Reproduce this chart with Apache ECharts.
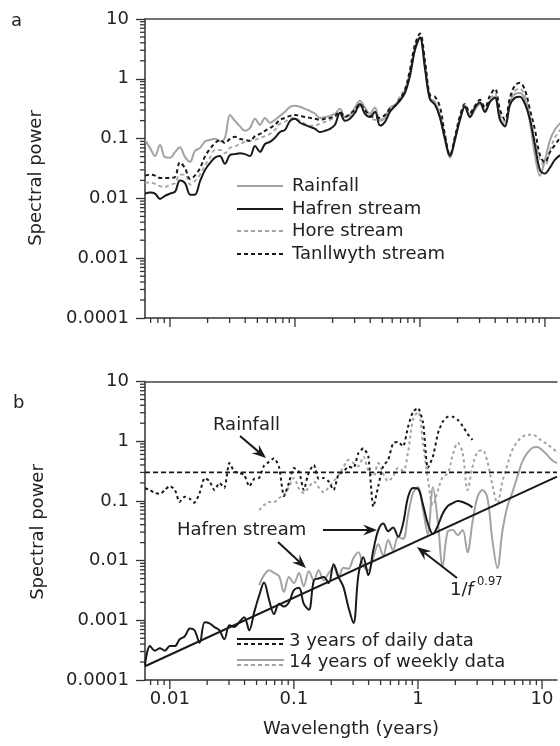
<!DOCTYPE html>
<html>
<head>
<meta charset="utf-8">
<script src="https://cdn.jsdelivr.net/npm/echarts@6/dist/echarts.min.js"></script>
<style>
  html, body { margin: 0; padding: 0; background: #fff; }
  #chart { width: 560px; height: 746px; }
</style>
</head>
<body>
<div id="chart"></div>
<script>
// wavelength grid (years), shared by all curves
var wavelengths = [
  0.00631, 0.00692, 0.00759, 0.00832, 0.00912, 0.0100, 0.0110, 0.0120, 0.0132, 0.0145,
  0.0158, 0.0174, 0.0191, 0.0209, 0.0229, 0.0251, 0.0275, 0.0302, 0.0331, 0.0363,
  0.0398, 0.0437, 0.0479, 0.0525, 0.0575, 0.0631, 0.0692, 0.0759, 0.0832, 0.0912,
  0.100, 0.110, 0.120, 0.132, 0.145, 0.158, 0.174, 0.191, 0.209, 0.229,
  0.251, 0.275, 0.302, 0.331, 0.363, 0.398, 0.437, 0.479, 0.525, 0.575,
  0.631, 0.692, 0.759, 0.832, 0.912, 1.00, 1.10, 1.20, 1.32, 1.45,
  1.58, 1.74, 1.91, 2.09, 2.29, 2.51, 2.75, 3.02, 3.31, 3.63,
  3.98, 4.37, 4.79, 5.25, 5.75, 6.31, 6.92, 7.59, 8.32, 9.12,
  10.0, 11.0, 12.0, 13.2
];

// panel a: spectral power
var rainfallA = [
  0.095, 0.070, 0.051, 0.078, 0.049, 0.048, 0.060, 0.072, 0.049, 0.041,
  0.062, 0.070, 0.090, 0.095, 0.099, 0.090, 0.103, 0.249, 0.198, 0.160,
  0.135, 0.151, 0.215, 0.170, 0.222, 0.184, 0.206, 0.240, 0.280, 0.34,
  0.354, 0.34, 0.315, 0.29, 0.26, 0.222, 0.23, 0.24, 0.26, 0.315,
  0.23, 0.249, 0.33, 0.43, 0.33, 0.26, 0.33, 0.198, 0.222, 0.33,
  0.367, 0.46, 0.63, 1.17, 3.06, 5.0, 1.55, 0.48, 0.40, 0.222,
  0.095, 0.048, 0.095, 0.206, 0.34, 0.23, 0.303, 0.38, 0.29, 0.41,
  0.50, 0.22, 0.17, 0.40, 0.56, 0.58, 0.445, 0.191, 0.053, 0.024,
  0.044, 0.095, 0.140, 0.18
];
var hafrenA = [
  0.012, 0.0125, 0.012, 0.0098, 0.011, 0.012, 0.013, 0.020, 0.018, 0.0115,
  0.0115, 0.0195, 0.030, 0.039, 0.048, 0.051, 0.038, 0.053, 0.055, 0.057,
  0.055, 0.051, 0.075, 0.060, 0.081, 0.088, 0.103, 0.129, 0.140, 0.198,
  0.215, 0.184, 0.170, 0.157, 0.145, 0.129, 0.135, 0.145, 0.170, 0.27,
  0.198, 0.215, 0.27, 0.38, 0.26, 0.23, 0.28, 0.165, 0.191, 0.28,
  0.35, 0.43, 0.58, 1.12, 3.06, 4.86, 1.42, 0.46, 0.367, 0.222,
  0.103, 0.051, 0.099, 0.206, 0.34, 0.23, 0.33, 0.40, 0.28, 0.41,
  0.48, 0.206, 0.16, 0.367, 0.48, 0.50, 0.38, 0.206, 0.078, 0.030,
  0.026, 0.033, 0.044, 0.053
];
var horeA = [
  0.018, 0.0185, 0.0175, 0.016, 0.0155, 0.017, 0.018, 0.025, 0.025, 0.017,
  0.0195, 0.025, 0.036, 0.048, 0.065, 0.065, 0.057, 0.070, 0.074, 0.081,
  0.088, 0.092, 0.095, 0.103, 0.11, 0.12, 0.140, 0.177, 0.191, 0.215,
  0.222, 0.198, 0.177, 0.165, 0.165, 0.177, 0.191, 0.206, 0.23, 0.249,
  0.222, 0.24, 0.27, 0.35, 0.27, 0.222, 0.206, 0.206, 0.23, 0.29,
  0.35, 0.52, 0.68, 1.31, 3.3, 5.0, 1.65, 0.50, 0.41, 0.24,
  0.11, 0.053, 0.103, 0.222, 0.367, 0.249, 0.33, 0.40, 0.30, 0.445,
  0.56, 0.249, 0.191, 0.445, 0.63, 0.68, 0.52, 0.24, 0.095, 0.044,
  0.035, 0.065, 0.103, 0.140
];
var tanllwythA = [
  0.024, 0.025, 0.024, 0.022, 0.022, 0.022, 0.023, 0.040, 0.032, 0.021,
  0.024, 0.032, 0.051, 0.067, 0.084, 0.095, 0.084, 0.099, 0.107, 0.099,
  0.095, 0.092, 0.11, 0.12, 0.135, 0.151, 0.170, 0.206, 0.222, 0.24,
  0.249, 0.24, 0.23, 0.222, 0.215, 0.206, 0.215, 0.222, 0.24, 0.28,
  0.23, 0.26, 0.30, 0.38, 0.30, 0.24, 0.23, 0.222, 0.249, 0.315,
  0.35, 0.46, 0.65, 1.42, 3.7, 5.7, 1.92, 0.54, 0.50, 0.33,
  0.12, 0.053, 0.11, 0.24, 0.38, 0.27, 0.35, 0.445, 0.33, 0.52,
  0.68, 0.303, 0.206, 0.48, 0.77, 0.86, 0.65, 0.303, 0.140, 0.053,
  0.040, 0.060, 0.078, 0.103
];

// panel b: 3 years of daily data (first 67 wavelengths)
var rainDaily = [
  0.163, 0.152, 0.136, 0.131, 0.152, 0.178, 0.152, 0.096, 0.117, 0.108,
  0.093, 0.136, 0.242, 0.214, 0.152, 0.200, 0.165, 0.433, 0.31, 0.294,
  0.272, 0.175, 0.235, 0.242, 0.39, 0.45, 0.52, 0.37, 0.12, 0.2,
  0.356, 0.31, 0.152, 0.305, 0.40, 0.235, 0.242, 0.21, 0.152, 0.28,
  0.31, 0.375, 0.356, 0.63, 0.76, 0.55, 0.08, 0.178, 0.385, 0.485,
  0.93, 0.97, 0.82, 1.74, 3.1, 3.6, 2.0, 0.356, 0.55, 1.36,
  2.1, 2.56, 2.56, 2.28, 1.8, 1.33, 1.05
];
var hafrenDaily = [
  0.00018, 0.00037, 0.00031, 0.00034, 0.00031, 0.00037, 0.00037, 0.00048, 0.00054, 0.00073,
  0.00068, 0.00042, 0.00093, 0.00089, 0.00077, 0.00068, 0.00048, 0.00083, 0.00077, 0.00093,
  0.00113, 0.00068, 0.00137, 0.0026, 0.0043, 0.0022, 0.00127, 0.0019, 0.0017, 0.0020,
  0.0032, 0.0035, 0.0019, 0.0015, 0.0047, 0.0050, 0.0053, 0.0042, 0.0087, 0.0053,
  0.0036, 0.00166, 0.0009, 0.0057, 0.0114, 0.0057, 0.015, 0.0325, 0.042, 0.031,
  0.036, 0.025, 0.042, 0.116, 0.165, 0.16, 0.085, 0.042, 0.028, 0.039,
  0.061, 0.082, 0.092, 0.1, 0.096, 0.088, 0.078
];
// panel b: 14 years of weekly data (wavelengths from index 23)
var rainWeekly = [
  0.070, 0.085, 0.096, 0.096, 0.112, 0.126, 0.17, 0.242, 0.16, 0.136,
  0.17, 0.21, 0.17, 0.14, 0.17, 0.215, 0.272, 0.37, 0.485, 0.43,
  0.385, 0.55, 0.32, 0.26, 0.43, 0.285, 0.215, 0.26, 0.356, 0.32,
  0.66, 2.28, 3.1, 0.87, 0.242, 0.085, 0.152, 0.25, 0.29, 0.59,
  0.94, 0.64, 0.152, 0.37, 0.66, 0.71, 0.45, 0.185, 0.092, 0.21,
  0.40, 0.71, 0.97, 1.18, 1.28, 1.28, 1.18, 1.0, 0.9, 0.77,
  0.66
];
var hafrenWeekly = [
  0.0039, 0.0057, 0.0069, 0.0062, 0.0055, 0.0030, 0.0053, 0.0042, 0.0062, 0.0037,
  0.0066, 0.0047, 0.0069, 0.0047, 0.0062, 0.0078, 0.0053, 0.0076, 0.0073, 0.011,
  0.0138, 0.0081, 0.0069, 0.0114, 0.0188, 0.012, 0.0221, 0.015, 0.025, 0.023,
  0.058, 0.136, 0.17, 0.070, 0.028, 0.17, 0.042, 0.0081, 0.031, 0.0325,
  0.0268, 0.0325, 0.0138, 0.044, 0.117, 0.152, 0.112, 0.0221, 0.0075, 0.031,
  0.08, 0.136, 0.25, 0.45, 0.63, 0.77, 0.80, 0.71, 0.59, 0.485,
  0.43
];

// 1/f^0.97 fit end points and mean rainfall level
var fitWave = [0.00631, 13.2];
var fitPower = [0.00017, 0.255];
var rainMean = 0.3;

var xMin = 0.00631, xMax = 13.2, yMin = 0.0001, yMax = 10;
var FONT = '"DejaVu Sans", Verdana, sans-serif';
var GREY = '#a3a3a3';
var INK = '#1a1a1a';
var TICK = '#333';

var dailyWave = wavelengths.slice(0, 67);
var weeklyWave = wavelengths.slice(23);

function pairs(xs, ys) {
  return ys.map(function (y, i) { return [xs[i], y]; });
}

function curve(name, idx, xs, ys, color, width, dash, smooth) {
  return {
    name: name, type: 'line', xAxisIndex: idx, yAxisIndex: idx,
    data: pairs(xs, ys), symbol: 'none', smooth: smooth, silent: true,
    lineStyle: { color: color, width: width, type: dash || 'solid' }
  };
}

// decade labels only
function decadeLabel(v) {
  var e = Math.log10(v), r = Math.round(e);
  if (Math.abs(e - r) > 1e-6) return '';
  return r >= 0 ? String(Math.pow(10, r)) : Math.pow(10, r).toFixed(-r);
}

// log tick values: major at decades (flag 1), minor at 2..9 (flag 0)
function logTicks(lo, hi, e0, e1) {
  var out = [];
  for (var e = e0; e <= e1; e++) for (var m = 1; m <= 9; m++) {
    var v = +(m * Math.pow(10, e)).toPrecision(3);
    if (v >= lo && v <= hi) out.push([v, m === 1 ? 1 : 0]);
  }
  return out;
}
var xTicks = logTicks(xMin, xMax, -3, 1);
var yTicks = logTicks(yMin, yMax, -4, 1);

function bottomAxis(idx, showLabels) {
  return {
    type: 'log', logBase: 10, gridIndex: idx, min: xMin, max: xMax,
    axisLine: { lineStyle: { color: TICK, width: 1.5 } },
    axisTick: { show: false }, splitLine: { show: false },
    axisLabel: { show: showLabels, formatter: decadeLabel, fontSize: 18, color: '#222', margin: 10, fontFamily: FONT },
    name: showLabels ? 'Wavelength (years)' : '',
    nameLocation: 'middle', nameGap: 40,
    nameTextStyle: { fontSize: 18, color: '#222', fontFamily: FONT }
  };
}
function topAxis(idx) {
  return {
    type: 'log', logBase: 10, gridIndex: idx, min: xMin, max: xMax, position: 'top',
    axisLine: { lineStyle: { color: '#444', width: 1.5 } },
    axisTick: { show: false }, axisLabel: { show: false }, splitLine: { show: false }
  };
}
function leftAxis(idx) {
  return {
    type: 'log', logBase: 10, gridIndex: idx, min: yMin, max: yMax,
    axisLine: { lineStyle: { color: TICK, width: 1.5 } },
    axisTick: { show: true, length: 9, lineStyle: { color: TICK, width: 1.3 } },
    splitLine: { show: false },
    axisLabel: { formatter: decadeLabel, fontSize: 18, color: '#222', margin: 16, fontFamily: FONT }
  };
}

function arrow(x1, y1, x2, y2) {
  var a = Math.atan2(y2 - y1, x2 - x1), L = 14, W = 5.5;
  var c = Math.cos(a), s = Math.sin(a);
  var bx = x2 - L * c, by = y2 - L * s;
  var nx = x2 - 0.65 * L * c, ny = y2 - 0.65 * L * s;
  return [
    { type: 'line', z: 20, shape: { x1: x1, y1: y1, x2: nx, y2: ny }, style: { stroke: INK, lineWidth: 2 } },
    { type: 'polygon', z: 20, shape: { points: [[x2, y2], [bx - W * s, by + W * c], [nx, ny], [bx + W * s, by - W * c]] }, style: { fill: INK } }
  ];
}
function label(text, x, y, size, extra) {
  var st = { text: text, x: x, y: y, font: size + 'px ' + FONT, fill: '#222', textAlign: 'left', textVerticalAlign: 'middle' };
  for (var k in extra) st[k] = extra[k];
  return { type: 'text', z: 20, style: st };
}
function seg(x1, y1, x2, y2, color, dash, width) {
  return { type: 'line', z: 20, shape: { x1: x1, y1: y1, x2: x2, y2: y2 }, style: { stroke: color, lineWidth: width || 2, lineDash: dash || null } };
}
function yName(x, y) {
  return { type: 'text', z: 20, x: x, y: y, rotation: Math.PI / 2, style: { text: 'Spectral power', x: 0, y: 0, font: '18px ' + FONT, fill: '#222', textAlign: 'center', textVerticalAlign: 'middle' } };
}

var graphics = [
  label('a', 11, 21, 18),
  label('b', 13, 403, 18),
  yName(36, 178),
  yName(38, 532),
  // legend a
  seg(237, 186, 283, 186, GREY), label('Rainfall', 292, 186, 18),
  seg(237, 209, 283, 209, INK), label('Hafren stream', 292, 209, 18),
  seg(237, 231, 283, 231, GREY, [4, 3]), label('Hore stream', 292, 231, 18),
  seg(237, 254, 283, 254, INK, [4, 3]), label('Tanllwyth stream', 292, 254, 18),
  // legend b
  seg(237, 639, 284, 639, INK), seg(237, 644, 284, 644, INK, [4, 3]),
  label('3 years of daily data', 289, 641, 18),
  seg(237, 660, 284, 660, GREY), seg(237, 665, 284, 665, GREY, [4, 3]),
  label('14 years of weekly data', 289, 662, 18),
  // annotations
  label('Rainfall', 213, 425, 18),
  label('Hafren stream', 177, 530, 18),
  label('1/', 450, 590, 18),
  label('f', 467, 590, 18, { font: 'italic 18px ' + FONT }),
  label('0.97', 477, 582, 11.5)
].concat(arrow(240, 436, 266, 458))
 .concat(arrow(323, 530, 377, 530))
 .concat(arrow(278, 542, 306, 568))
 .concat(arrow(457, 578, 417, 547));

var chart = echarts.init(document.getElementById('chart'), null, { renderer: 'canvas' });
chart.setOption({
  animation: false,
  backgroundColor: '#fff',
  textStyle: { fontFamily: FONT },
  grid: [
    { left: 145, top: 19, width: 415, height: 299 },
    { left: 145, top: 381.5, width: 415, height: 298.5 }
  ],
  xAxis: [bottomAxis(0, false), bottomAxis(1, true), topAxis(0), topAxis(1)],
  yAxis: [leftAxis(0), leftAxis(1)],
  series: [
    curve('Rainfall', 0, wavelengths, rainfallA, GREY, 2, 'solid', 0.35),
    curve('Hore stream', 0, wavelengths, horeA, GREY, 1.8, [4, 3], 0.35),
    curve('Hafren stream', 0, wavelengths, hafrenA, INK, 2, 'solid', 0.35),
    curve('Tanllwyth stream', 0, wavelengths, tanllwythA, INK, 2, [4, 3], 0.35),

    curve('Rainfall weekly', 1, weeklyWave, rainWeekly, GREY, 2, [3, 3], 0.35),
    curve('Hafren weekly', 1, weeklyWave, hafrenWeekly, GREY, 2, 'solid', 0.35),
    curve('Rainfall daily', 1, dailyWave, rainDaily, INK, 2, [3, 3], 0.2),
    curve('Hafren daily', 1, dailyWave, hafrenDaily, INK, 2, 'solid', 0.35),
    curve('Mean rainfall', 1, fitWave, [rainMean, rainMean], INK, 1.6, [5, 3], false),
    curve('1/f fit', 1, fitWave, fitPower, INK, 2, 'solid', false)
  ],
  graphic: graphics
});

// log-spaced ticks placed through the axes' own scales
var ticks = [];
[0, 1].forEach(function (gi) {
  var grid = chart.getModel().getComponent('grid', gi).coordinateSystem.getRect();
  var bottom = grid.y + grid.height, left = grid.x;
  xTicks.forEach(function (t) {
    var px = chart.convertToPixel({ xAxisIndex: gi }, t[0]);
    ticks.push(seg(px, bottom, px, bottom + (t[1] ? 9 : 5), TICK, null, 1.3));
  });
  yTicks.forEach(function (t) {
    if (t[1]) return;
    var py = chart.convertToPixel({ yAxisIndex: gi }, t[0]);
    ticks.push(seg(left - 5, py, left, py, TICK, null, 1.3));
  });
});
chart.setOption({ graphic: graphics.concat(ticks) });
</script>
</body>
</html>
